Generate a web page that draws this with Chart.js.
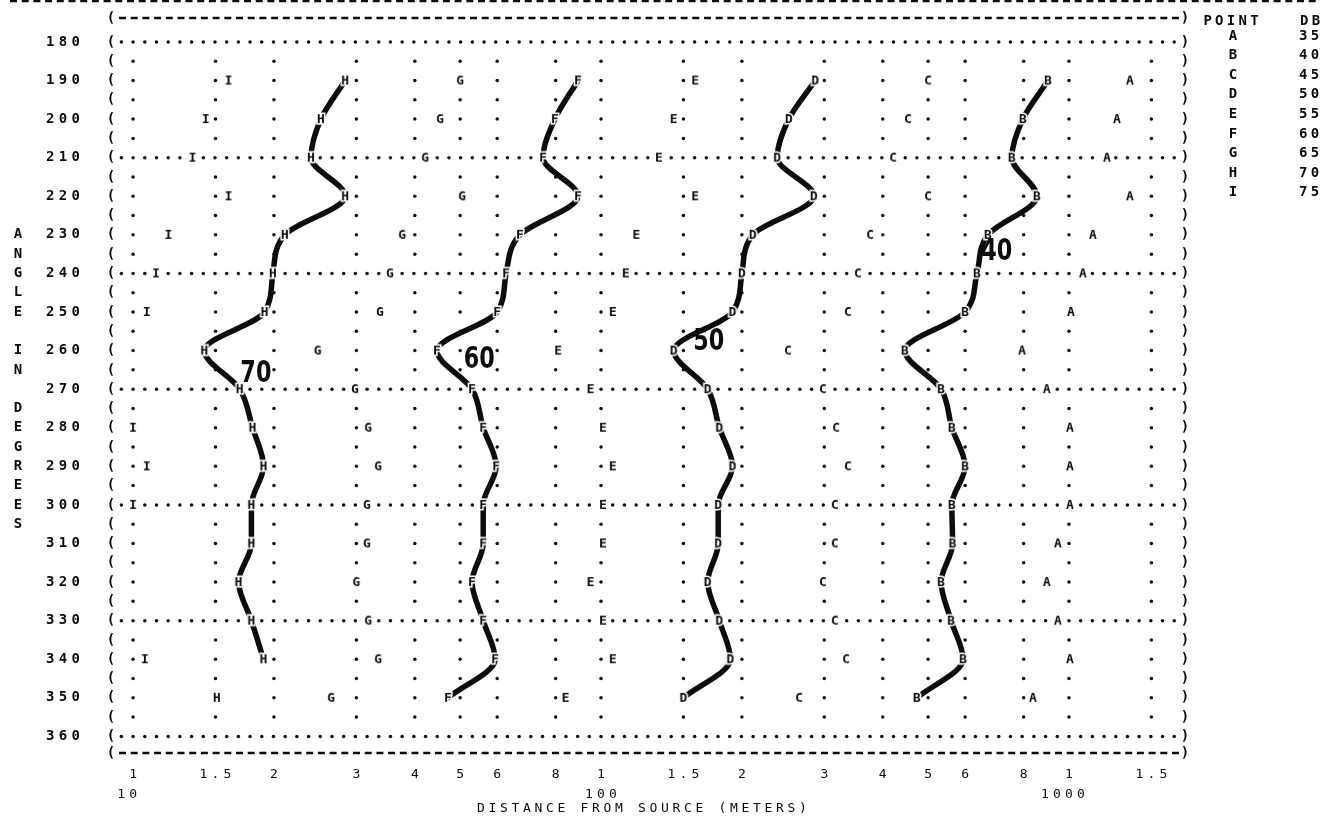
<!DOCTYPE html>
<html>
<head>
<meta charset="utf-8">
<title>Distance from source vs angle</title>
<script src="https://cdn.jsdelivr.net/npm/chart.js@4.4.1/dist/chart.umd.min.js"></script>
<style>html,body{margin:0;background:#fff}canvas{display:block}</style>
</head>
<body>
<canvas id="plot" width="1329" height="829"></canvas>
<script>
'use strict';
const INK = '#0c0c0c';
const MONO = '"DejaVu Sans Mono", "Liberation Mono", monospace';

// printed rows (degrees)
const angles = [190, 200, 210, 220, 230, 240, 250, 260, 270, 280, 290, 300, 310, 320, 330, 340, 350];
// distance (m) for each letter / level, one value per row (null = off the plot)
const A = [1350, 1267, 1206, 1350, 1125, 1071, 1010, 794, 897, 1005, 1005, 1005, 947, 897, 947, 1005, 838];
const B = [902, 797, 755, 854, 671, 636, 600, 446, 533, 562, 600, 562, 564, 533, 560, 594, 473];
const C = [500, 453, 421, 500, 376, 354, 337, 251, 298, 318, 337, 316, 316, 298, 316, 334, 265];
const D = [287, 252, 238, 285, 211, 200, 191, 143, 169, 179, 191, 178, 178, 169, 179, 189, 150];
const E = [159, 143, 133, 159, 119, 113, 106, 81, 95, 101, 106, 101, 101, 95, 101, 106, 84];
const F = [89.3, 79.7, 75.2, 89.3, 67.1, 62.7, 60, 44.6, 53, 56, 59.7, 56, 56, 53, 56, 59.4, 47.1];
const G = [50, 45.3, 42.1, 50.5, 37.6, 35.4, 33.7, 24.8, 29.8, 31.8, 33.4, 31.6, 31.6, 30, 31.8, 33.4, 26.5];
const H = [28.4, 25.2, 24.0, 28.4, 21.1, 19.9, 19.1, 14.2, 16.9, 18.0, 19.0, 17.9, 17.9, 16.8, 17.9, 19.0, 15.1];
const I = [16.0, 14.3, 13.4, 16.0, 11.9, 11.2, 10.7, null, null, 10.0, 10.7, 10.0, null, null, null, 10.6, null];

const pointLetters = ['A', 'B', 'C', 'D', 'E', 'F', 'G', 'H', 'I'];
const dbLevels = [35, 40, 45, 50, 55, 60, 65, 70, 75];
const series = { A, B, C, D, E, F, G, H, I };

// hand drawn contours
const curveLetters = ['H', 'F', 'D', 'B'];
const curveLast = [340, 350, 350, 350];
const contourText = ['70', '60', '50', '40'];
const contourDist = [18.3, 54.9, 170, 701];
const contourAngle = [266, 262.4, 257.7, 234.4];

// axes
const angleTicks = [180, 190, 200, 210, 220, 230, 240, 250, 260, 270, 280, 290, 300, 310, 320, 330, 340, 350, 360];
const dottedRows = [180, 210, 240, 270, 300, 330, 360];
const distTicks = [10, 15, 20, 30, 40, 50, 60, 80, 100, 150, 200, 300, 400, 500, 600, 800, 1000, 1500];
const distTickLabels = ['1', '1.5', '2', '3', '4', '5', '6', '8', '1', '1.5', '2', '3', '4', '5', '6', '8', '1', '1.5'];
const decades = [10, 100, 1000];

function spaced(ctx, str, cx, cy, pitch, anchor) {
  const n = str.length, k = anchor === undefined ? (n - 1) / 2 : anchor;
  [...str].forEach((ch, i) => ctx.fillText(ch, cx + (i - k) * pitch, cy));
}

function dash(ctx, x0, x1, py) {
  ctx.save();
  ctx.strokeStyle = INK; ctx.lineWidth = 2.6; ctx.setLineDash([7, 4.7]);
  ctx.beginPath(); ctx.moveTo(x0, py); ctx.lineTo(x1, py); ctx.stroke();
  ctx.restore();
}

function letterSprite(ch, halo) {
  const c = document.createElement('canvas');
  c.width = 16; c.height = 18;
  const g = c.getContext('2d');
  g.font = 'bold 13px ' + MONO; g.textAlign = 'center'; g.textBaseline = 'middle';
  if (halo) { g.strokeStyle = '#fff'; g.lineWidth = 3; g.strokeText(ch, 8, 10); }
  g.fillStyle = INK; g.fillText(ch, 8, 10);
  return c;
}

// dotted grid, brackets and dashed frame of the printout
const printerGrid = {
  id: 'printerGrid',
  beforeDatasetsDraw(chart) {
    const { ctx, chartArea: a, scales: { x, y } } = chart;
    const used = {};
    pointLetters.forEach((k, di) => {
      chart.getDatasetMeta(di).data.forEach((pt, j) => {
        const ang = chart.data.datasets[di].data[j].y;
        (used[ang] = used[ang] || []).push(pt.x);
      });
    });
    const free = (ang, px) => !(used[ang] || []).some(u => Math.abs(u - px) < 6);
    const dot = (px, py) => { ctx.beginPath(); ctx.arc(px, py, 1.75, 0, Math.PI * 2); ctx.fill(); };
    ctx.save();
    ctx.fillStyle = INK;
    for (let ang = 185; ang < 360; ang += 5) {
      if (dottedRows.includes(ang)) continue;
      const py = y.getPixelForValue(ang);
      distTicks.forEach(v => { const px = x.getPixelForValue(v); if (free(ang, px)) dot(px, py); });
    }
    dottedRows.forEach(ang => {
      const py = y.getPixelForValue(ang);
      for (let k = -1; k <= 89; k++) {
        const px = x.getPixelForValue(10 * Math.pow(10, k / 40));
        if (free(ang, px)) dot(px, py);
      }
    });
    ctx.font = 'bold 14px ' + MONO; ctx.textAlign = 'center'; ctx.textBaseline = 'middle';
    for (let ang = 180; ang <= 360; ang += 5) {
      const py = y.getPixelForValue(ang);
      ctx.fillText('(', a.left, py); ctx.fillText(')', a.right, py);
    }
    [a.top, a.bottom].forEach(py => {
      ctx.fillText('(', a.left, py); ctx.fillText(')', a.right, py);
      dash(ctx, a.left + 8, a.right - 6, py);
    });
    dash(ctx, 10, chart.width - 10, 1);
    ctx.restore();
  }
};

// axis texts, legend table and contour numbers
const printerText = {
  id: 'printerText',
  afterDraw(chart) {
    const { ctx, chartArea: a, scales: { x, y } } = chart;
    ctx.save();
    ctx.fillStyle = INK; ctx.textAlign = 'center'; ctx.textBaseline = 'middle';

    ctx.font = 'bold 14px ' + MONO;
    angleTicks.forEach(t => spaced(ctx, String(t), a.left - 48, y.getPixelForValue(t), 12.8));
    [...'ANGLE IN DEGREES'].forEach((ch, i) => ctx.fillText(ch, 18, y.getPixelForValue(230 + 5 * i)));

    // legend
    spaced(ctx, 'POINT', a.right + 46, a.top + 3, 11.7);
    spaced(ctx, 'DB', a.right + 125, a.top + 3, 11.7);
    pointLetters.forEach((k, i) => {
      const py = a.top + 18 + 19.6 * i;
      ctx.fillText(k, a.right + 48, py);
      spaced(ctx, String(dbLevels[i]), a.right + 124, py, 11.7);
    });

    // distance axis
    ctx.font = '13px ' + MONO;
    distTicks.forEach((v, i) => spaced(ctx, distTickLabels[i], x.getPixelForValue(v), a.bottom + 22, 12));
    decades.forEach(v => {
      const s = String(v);
      spaced(ctx, s, x.getPixelForValue(v), a.bottom + 42, 12, Math.floor(s.length / 2));
    });
    spaced(ctx, 'DISTANCE FROM SOURCE (METERS)', (a.left + a.right) / 2 - 6, a.bottom + 56, 11.5);

    // condensed bold contour numbers
    ctx.font = 'bold 31px "DejaVu Sans", sans-serif';
    contourText.forEach((t, i) => {
      ctx.save();
      ctx.translate(x.getPixelForValue(contourDist[i]), y.getPixelForValue(contourAngle[i]));
      ctx.scale(0.72, 1);
      ctx.fillText(t, 0, 0);
      ctx.restore();
    });
    ctx.restore();
  }
};

const letterSets = pointLetters.map(k => ({
  label: k,
  data: angles.map((ang, i) => ({ x: series[k][i], y: ang })).filter(p => p.x != null),
  showLine: false,
  pointStyle: letterSprite(k, curveLetters.includes(k)),
  pointRadius: 6,
  order: 0,
}));

const curveSets = curveLetters.map((k, ci) => ({
  label: k + ' contour',
  data: angles.map((ang, i) => ({ x: series[k][i], y: ang })).filter(p => p.y <= curveLast[ci]),
  borderColor: INK,
  borderWidth: 5.5,
  borderCapStyle: 'round',
  borderJoinStyle: 'round',
  cubicInterpolationMode: 'monotone',
  pointRadius: 0,
  fill: false,
  order: 1,
}));

new Chart(document.getElementById('plot'), {
  type: 'line',
  data: { datasets: [...letterSets, ...curveSets] },
  options: {
    indexAxis: 'y',
    responsive: false, animation: false, events: [], devicePixelRatio: 1,
    layout: { padding: { left: 111, right: 144, top: 18, bottom: 76 } },
    scales: {
      x: { type: 'logarithmic', min: 8.97, max: 1770, display: false },
      y: { type: 'linear', min: 173.8, max: 364.3, reverse: true, display: false },
    },
    plugins: { legend: { display: false }, tooltip: { enabled: false } },
  },
  plugins: [printerGrid, printerText],
});
</script>
</body>
</html>
